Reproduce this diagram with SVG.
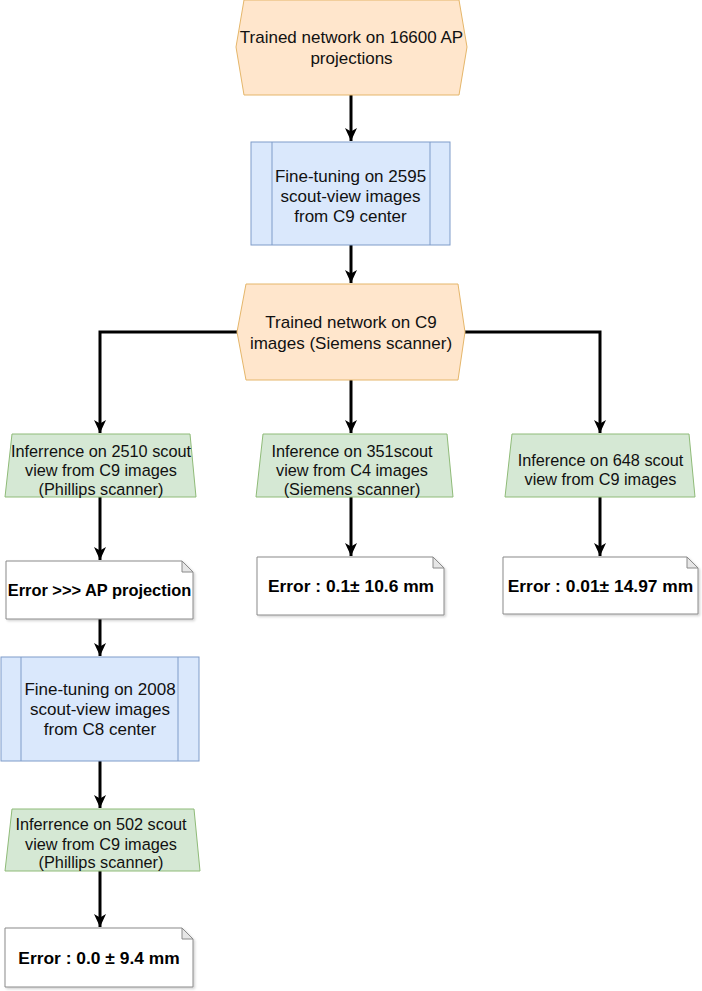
<svg xmlns="http://www.w3.org/2000/svg" width="702" height="991" viewBox="0 0 702 991">
<defs>
<marker id="arr" markerUnits="userSpaceOnUse" markerWidth="14" markerHeight="14" viewBox="0 0 14 14" refX="13" refY="7" orient="auto">
<path d="M0,1 L13,7 L0,13 L3.5,7 Z" fill="#000"/>
</marker>
<filter id="sh" x="-5%" y="-5%" width="115%" height="120%">
<feDropShadow dx="1.5" dy="1.5" stdDeviation="0.8" flood-color="#000" flood-opacity="0.18"/>
</filter>
</defs>
<style>
.hex{fill:#ffe6cc;stroke:#e5b66a;stroke-width:1}
.blue{fill:#dae8fc;stroke:#7f9cc9;stroke-width:1}
.green{fill:#d5e8d4;stroke:#8fbb78;stroke-width:1}
.note{fill:#fff;stroke:#8a8a8a;stroke-width:1;filter:url(#sh)}
.fold{fill:#e6e6e6;stroke:#8a8a8a;stroke-width:1}
.t{font-family:"Liberation Sans",Arial,sans-serif;font-size:17px;fill:#111;text-anchor:middle}
.tg{font-family:"Liberation Sans",Arial,sans-serif;font-size:16.3px;fill:#111;text-anchor:middle}
.tb{font-family:"Liberation Sans",Arial,sans-serif;font-size:17.4px;font-weight:bold;fill:#000;text-anchor:middle}
.c{fill:none;stroke:#000;stroke-width:3}
</style>
<g id="connectors">
<path class="c" d="M351,95 V141" marker-end="url(#arr)"/>
<path class="c" d="M351,245 V283" marker-end="url(#arr)"/>
<path class="c" d="M237,332 H100 V433" marker-end="url(#arr)"/>
<path class="c" d="M351,380 V433" marker-end="url(#arr)"/>
<path class="c" d="M465,332 H600 V433" marker-end="url(#arr)"/>
<path class="c" d="M100,497 V560" marker-end="url(#arr)"/>
<path class="c" d="M351,497 V556" marker-end="url(#arr)"/>
<path class="c" d="M600,497 V556" marker-end="url(#arr)"/>
<path class="c" d="M100,619 V656" marker-end="url(#arr)"/>
<path class="c" d="M100,761 V808" marker-end="url(#arr)"/>
<path class="c" d="M100,871 V927" marker-end="url(#arr)"/>
</g>
<g id="n1">
<polygon class="hex" points="244,0 459,0 467,47 459,95 244,95 236,47"/>
<text class="t" x="351.5" y="43">Trained network on 16600 AP</text>
<text class="t" x="351.5" y="64">projections</text>
</g>
<g id="n2">
<rect class="blue" x="251" y="142" width="199" height="103"/>
<line class="blue" x1="272" y1="142" x2="272" y2="245"/>
<line class="blue" x1="430" y1="142" x2="430" y2="245"/>
<text class="t" x="350.5" y="182">Fine-tuning on 2595</text>
<text class="t" x="350.5" y="202">scout-view images</text>
<text class="t" x="350.5" y="222">from C9 center</text>
</g>
<g id="n3">
<polygon class="hex" points="246,284 458,284 465,332 458,380 246,380 237,332"/>
<text class="t" x="351" y="328">Trained network on C9</text>
<text class="t" x="351" y="349">images (Siemens scanner)</text>
</g>
<g id="n4">
<polygon class="green" points="12,434 190,434 196,497 5,497"/>
<text class="tg" x="101" y="457">Inferrence on 2510 scout</text>
<text class="tg" x="101" y="476">view from C9 images</text>
<text class="tg" x="101" y="495">(Phillips scanner)</text>
</g>
<g id="n5">
<polygon class="green" points="263,434 447,434 453,497 256,497"/>
<text class="tg" x="352" y="457">Inference on 351scout</text>
<text class="tg" x="352" y="476">view from C4 images</text>
<text class="tg" x="352" y="495">(Siemens scanner)</text>
</g>
<g id="n6">
<polygon class="green" points="512,434 689,434 695,497 505,497"/>
<text class="tg" x="600.5" y="466">Inference on 648 scout</text>
<text class="tg" x="600.5" y="485">view from C9 images</text>
</g>
<g id="n7">
<path class="note" d="M6,561 H182 L193,572 V619 H6 Z"/>
<path class="fold" d="M182,561 V572 H193 Z"/>
<text class="tb" x="99.5" y="596" style="font-size:16.4px">Error &gt;&gt;&gt; AP projection</text>
</g>
<g id="n8">
<path class="note" d="M257,557 H433 L444,568 V615 H257 Z"/>
<path class="fold" d="M433,557 V568 H444 Z"/>
<text class="tb" x="351" y="592">Error : 0.1± 10.6 mm</text>
</g>
<g id="n9">
<path class="note" d="M503,557 H687 L698,568 V614 H503 Z"/>
<path class="fold" d="M687,557 V568 H698 Z"/>
<text class="tb" x="600.5" y="592">Error : 0.01± 14.97 mm</text>
</g>
<g id="n10">
<rect class="blue" x="1" y="657" width="198" height="104"/>
<line class="blue" x1="21" y1="657" x2="21" y2="761"/>
<line class="blue" x1="178" y1="657" x2="178" y2="761"/>
<text class="t" x="100" y="695">Fine-tuning on 2008</text>
<text class="t" x="100" y="715">scout-view images</text>
<text class="t" x="100" y="735">from C8 center</text>
</g>
<g id="n11">
<polygon class="green" points="12,809 194,809 200,871 5,871"/>
<text class="tg" x="101" y="830">Inferrence on 502 scout</text>
<text class="tg" x="101" y="850">view from C9 images</text>
<text class="tg" x="101" y="868">(Phillips scanner)</text>
</g>
<g id="n12">
<path class="note" d="M5,928 H182 L193,939 V987 H5 Z"/>
<path class="fold" d="M182,928 V939 H193 Z"/>
<text class="tb" x="99" y="964">Error : 0.0 ± 9.4 mm</text>
</g>
</svg>
